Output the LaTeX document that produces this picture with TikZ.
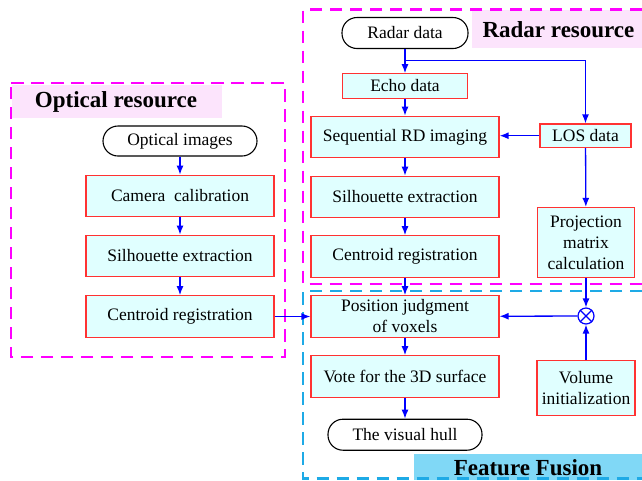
\documentclass[tikz,border=0pt]{standalone}
\usepackage{fontspec}
\setmainfont{Liberation Serif}
\usetikzlibrary{arrows.meta}
\definecolor{boxred}{RGB}{255,50,50}
\definecolor{boxfill}{RGB}{224,255,255}
\definecolor{titlepink}{RGB}{252,228,252}
\definecolor{titleblue}{RGB}{128,216,246}
\definecolor{magdash}{RGB}{255,0,255}
\definecolor{cyandash}{RGB}{30,170,230}
\begin{document}
\begin{tikzpicture}[x=1pt,y=-1pt,
  every node/.style={font=\fontsize{17.5}{21}\selectfont, inner sep=0pt, align=center},
  proc/.style={draw=boxred, fill=boxfill, line width=1.2pt},
  term/.style={draw=black, fill=white, line width=1.1pt, rounded corners=15pt},
  arr/.style={draw=blue, line width=1.3pt, -{Latex[length=9pt,width=7pt]}},
  dashframe/.style={line width=2.8pt, dash pattern=on 12.5pt off 7.5pt},
  ttl/.style={font=\fontsize{23}{26}\selectfont\bfseries}]
\useasboundingbox (0,0) rectangle (642,480);
\fill[white] (0,0) rectangle (642,480);
% title backgrounds
\fill[titlepink] (12,85) rectangle (222,118);
\fill[titlepink] (472,10) rectangle (642,48);
\fill[titleblue] (414,454) rectangle (642,480);
% frames
\draw[dashframe, magdash] (11,83) -- (285,83) -- (285,357) -- (11,357) -- cycle;
\draw[dashframe, magdash] (642,9.5) -- (303,9.5) -- (303,284) -- (642,284);
\draw[dashframe, cyandash] (642,291) -- (303,291) -- (303,478.5) -- (642,478.5);
% titles
\node[ttl] (topt) at (116,101.5) {Optical resource};
\node[ttl] (trad) at (558.5,29.5) {Radar resource};
\node[ttl] (tfus) at (528,467.5) {Feature Fusion};
% optical branch
\node[term, minimum width=154pt, minimum height=30pt] (oimg) at (180,141) {Optical images};
\node[proc, minimum width=188pt, minimum height=41.5pt] (ocam) at (180,196) {Camera\ \ calibration};
\node[proc, minimum width=188pt, minimum height=41.5pt] (osil) at (180,256) {Silhouette extraction};
\node[proc, minimum width=188pt, minimum height=41.5pt] (ocen) at (180,316.5) {Centroid registration};
% radar branch
\node[term, minimum width=126pt, minimum height=31pt] (rdat) at (405,33) {Radar data};
\node[proc, minimum width=125pt, minimum height=24.5pt] (echo) at (405,86) {Echo data};
\node[proc, minimum width=188pt, minimum height=41.5pt] (seq) at (405,137) {Sequential RD imaging};
\node[proc, minimum width=188pt, minimum height=41.5pt] (rsil) at (405,197) {Silhouette extraction};
\node[proc, minimum width=188pt, minimum height=41.5pt] (rcen) at (405,256.5) {Centroid registration};
\node[proc, minimum width=91pt, minimum height=23.5pt] (los) at (585.5,135.7) {LOS data};
\node[proc, minimum width=97pt, minimum height=70pt] (proj) at (586,242.5) {Projection\\matrix\\calculation};
% fusion
\node[proc, minimum width=188pt, minimum height=41.5pt] (pos) at (405,316.5) {Position judgment\\of voxels};
\node[proc, minimum width=188pt, minimum height=41.5pt] (vote) at (405,376.5) {Vote for the 3D surface};
\node[term, minimum width=154pt, minimum height=31pt] (hull) at (405,434.7) {The visual hull};
\node[proc, minimum width=98pt, minimum height=55pt] (vol) at (586,388) {Volume\\initialization};
\node[circle, draw=blue, line width=1.2pt, minimum size=16pt] (ot) at (586,316) {};
\draw[blue, line width=1.2pt] (ot.north west) -- (ot.south east) (ot.north east) -- (ot.south west);
% connectors
\coordinate (br) at (405,60.5);
\draw[arr] (oimg) -- (ocam);
\draw[arr] (ocam) -- (osil);
\draw[arr] (osil) -- (ocen);
\draw[arr] (rdat) -- (echo);
\draw[arr] (br) -| (los.north);
\draw[arr] (echo) -- (seq);
\draw[arr] (los.west) -- (los.west -| seq.east);
\draw[arr] (seq) -- (rsil);
\draw[arr] (rsil) -- (rcen);
\draw[arr] (rcen) -- (pos);
\draw[arr] (los) -- (proj);
\draw[arr] (proj) -- (ot);
\draw[arr] (vol) -- (ot);
\draw[arr] (ot) -- (pos);
\draw[arr] (ocen) -- (pos);
\draw[arr] (pos) -- (vote);
\draw[arr] (vote) -- (hull);
\end{tikzpicture}
\end{document}
